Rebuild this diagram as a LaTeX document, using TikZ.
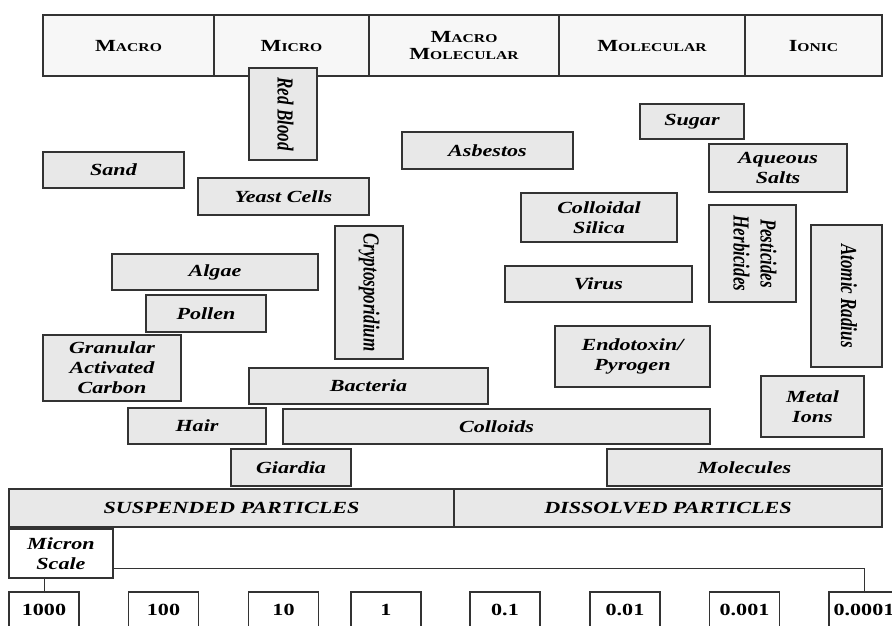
\documentclass[tikz,border=0pt]{standalone}
\usepackage{fontspec}
\setmainfont{Liberation Serif}
\newfontfamily\widefont[FakeStretch=1.3]{Liberation Serif}
\usepackage{graphicx}
\usepackage{tikz}

\newcommand{\hdr}[2]{{\fontsize{17}{17}\selectfont #1}#2}
\newcommand{\vlabel}[1]{\scalebox{1}[1.35]{\begin{tabular}{@{}c@{}}#1\end{tabular}}}

\begin{document}
\begin{tikzpicture}[x=1pt,y=-1pt,
    box/.style={draw=black!80, line width=1.2pt, fill=black!9, inner sep=0pt, align=center,
      font=\widefont\fontsize{17}{20}\selectfont\bfseries\itshape},
    head/.style={box, fill=black!3, minimum height=61pt,
      font=\widefont\fontsize{12}{17}\selectfont\bfseries},
    numbox/.style={box, fill=white, minimum width=70pt, minimum height=36pt,
      font=\widefont\fontsize{17}{20}\selectfont\bfseries},
    vbox/.style={box, rotate=-90, font=\fontsize{17}{20}\selectfont\bfseries\itshape},
    link/.style={draw=black!80, line width=0.9pt}]

    \useasboundingbox (0,0) rectangle (892,626);
    \clip (0,0) rectangle (892,626);

    % size classes
    \node[head, minimum width=171pt] (macro) at (128.5,45.5) {\hdr{M}{ACRO}};
    \node[head, minimum width=155pt] (micro) at (291.5,45.5) {\hdr{M}{ICRO}};
    \node[head, minimum width=190pt] (macromol) at (464,45.5) {\hdr{M}{ACRO}\\\hdr{M}{OLECULAR}};
    \node[head, minimum width=186pt] (molecular) at (652,45.5) {\hdr{M}{OLECULAR}};
    \node[head, minimum width=137pt] (ionic) at (813.5,45.5) {\hdr{I}{ONIC}};

    % particles
    \node[vbox, minimum width=92pt, minimum height=68pt] (redblood) at (283,114) {\vlabel{Red Blood}};
    \node[box, minimum width=141pt, minimum height=36pt] (sand) at (113.5,170) {Sand};
    \node[box, minimum width=171pt, minimum height=37pt] (yeast) at (283.5,196.5) {Yeast Cells};
    \node[box, minimum width=171pt, minimum height=37pt] (asbestos) at (487.5,150.5) {Asbestos};
    \node[box, minimum width=104pt, minimum height=35pt] (sugar) at (692,121.5) {Sugar};
    \node[box, minimum width=138pt, minimum height=48pt] (aqueous) at (778,168) {Aqueous\\Salts};
    \node[box, minimum width=156pt, minimum height=49pt] (silica) at (599,217.5) {Colloidal\\Silica};
    \node[vbox, minimum width=97pt, minimum height=87pt] (pesticides) at (752.5,253.5) {\vlabel{Pesticides\\Herbicides}};
    \node[vbox, minimum width=142pt, minimum height=71pt] (atomic) at (846.5,296) {\vlabel{Atomic Radius}};
    \node[vbox, minimum width=133pt, minimum height=68pt] (crypto) at (369,292.5) {\vlabel{Cryptosporidium}};
    \node[box, minimum width=206pt, minimum height=36pt] (algae) at (215,272) {Algae};
    \node[box, minimum width=120pt, minimum height=37pt] (pollen) at (206,313.5) {Pollen};
    \node[box, minimum width=187pt, minimum height=36pt] (virus) at (598.5,284) {Virus};
    \node[box, minimum width=155pt, minimum height=61pt] (endotoxin) at (632.5,356.5) {Endotoxin/\\Pyrogen};
    \node[box, minimum width=138pt, minimum height=66pt] (carbon) at (112,368) {Granular\\Activated\\Carbon};
    \node[box, minimum width=239pt, minimum height=36pt] (bacteria) at (368.5,386) {Bacteria};
    \node[box, minimum width=103pt, minimum height=61pt] (metal) at (812.5,406.5) {Metal\\Ions};
    \node[box, minimum width=138pt, minimum height=36pt] (hair) at (197,426) {Hair};
    \node[box, minimum width=427pt, minimum height=35pt] (colloids) at (496.5,426.5) {Colloids};
    \node[box, minimum width=120pt, minimum height=37pt] (giardia) at (291,467.5) {Giardia};
    \node[box, minimum width=275pt, minimum height=37pt] (molecules) at (744.5,467.5) {Molecules};
    \node[box, minimum width=445pt, minimum height=38pt] (suspended) at (231.5,508) {SUSPENDED PARTICLES};
    \node[box, minimum width=428pt, minimum height=38pt] (dissolved) at (668,508) {DISSOLVED PARTICLES};

    % micron scale
    \node[box, fill=white, minimum width=104pt, minimum height=49pt] (scale) at (61,553.5) {Micron\\Scale};
    \node[numbox] (n1000) at (44,610) {1000};
    \node[numbox] (n100) at (163.5,610) {100};
    \node[numbox] (n10) at (283.5,610) {10};
    \node[numbox] (n1) at (386,610) {1};
    \node[numbox] (n01) at (505,610) {0.1};
    \node[numbox] (n001) at (625,610) {0.01};
    \node[numbox] (n0001) at (744.5,610) {0.001};
    \node[numbox] (n00001) at (864,610) {0.0001};

    \draw[link] (n1000.north |- scale.south) -- (n1000.north);
    \draw[link] ([yshift=-14.5pt]scale.east) -| (n00001.north);
\end{tikzpicture}
\end{document}
